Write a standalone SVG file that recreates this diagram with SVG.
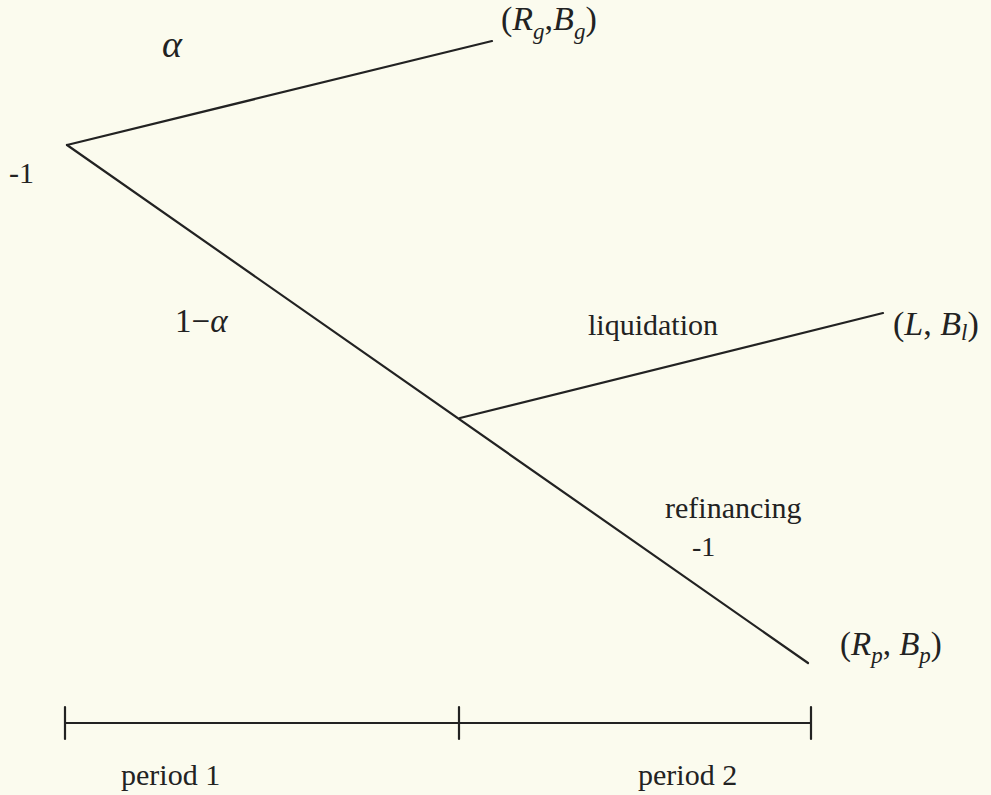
<svg xmlns="http://www.w3.org/2000/svg" width="991" height="795" viewBox="0 0 991 795">
<style>
.ln{stroke:#222;stroke-width:2.2;fill:none;stroke-linecap:round}
.t{font-family:"Liberation Serif","Times New Roman",serif;fill:#222}
.i{font-style:italic}
.sub{font-style:italic;font-size:23px}
</style>
<rect width="991" height="795" fill="#fbfbee"/>
<g id="connectors">
<line class="ln" x1="67" y1="145" x2="492" y2="41"/>
<line class="ln" x1="67" y1="145" x2="808" y2="663"/>
<line class="ln" x1="460" y1="418" x2="883" y2="313"/>
</g>
<g id="edge-labels">
<text class="t i" x="162" y="57" font-size="38">α</text>
<text class="t" x="175" y="332" font-size="33">1−<tspan class="i">α</tspan></text>
<text class="t" x="588" y="335" font-size="30">liquidation</text>
<text class="t" x="665" y="518" font-size="30">refinancing</text>
<text class="t" x="692" y="556" font-size="28">-1</text>
</g>
<g id="node-root">
<text class="t" x="9" y="183" font-size="30">-1</text>
</g>
<g id="node-growth">
<text class="t" x="501" y="30" font-size="34">(<tspan class="i">R</tspan><tspan class="sub" dy="9">g</tspan><tspan dy="-9">,</tspan><tspan class="i">B</tspan><tspan class="sub" dy="9">g</tspan><tspan dy="-9">)</tspan></text>
</g>
<g id="node-liquidation">
<text class="t" x="893" y="335" font-size="34">(<tspan class="i">L</tspan>, <tspan class="i">B</tspan><tspan class="sub" dy="5">l</tspan><tspan dy="-5">)</tspan></text>
</g>
<g id="node-refinancing">
<text class="t" x="840" y="655" font-size="33">(<tspan class="i">R</tspan><tspan class="sub" dy="8">p</tspan><tspan dy="-8">, </tspan><tspan class="i">B</tspan><tspan class="sub" dy="8">p</tspan><tspan dy="-8">)</tspan></text>
</g>
<g id="timeline">
<line class="ln" x1="65" y1="723" x2="811" y2="723"/>
<line class="ln" x1="65" y1="707" x2="65" y2="739"/>
<line class="ln" x1="459" y1="707" x2="459" y2="739"/>
<line class="ln" x1="811" y1="707" x2="811" y2="739"/>
<text class="t" x="121" y="785" font-size="30">period 1</text>
<text class="t" x="638" y="785" font-size="30">period 2</text>
</g>
</svg>
